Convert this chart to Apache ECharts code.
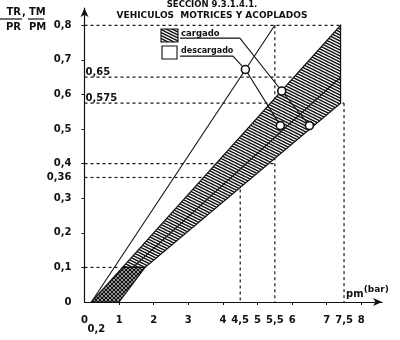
<!DOCTYPE html>
<html>
<head>
<meta charset="utf-8">
<script src="https://cdn.jsdelivr.net/npm/echarts@6/dist/echarts.min.js"></script>
<style>
  html, body { margin: 0; padding: 0; background: #fff; }
  #c { width: 400px; height: 340px; }
</style>
</head>
<body>
<div id="c"></div>
<script>
// Axis ticks and labels (pm in bar, brake ratio TR/PR, TM/PM)
const xLabelValues = [0, 1, 2, 3, 4, 4.5, 5, 5.5, 6, 7, 7.5, 8];
const xTickValues = [1, 2, 3, 4, 5, 6, 7, 8];
const yLabelValues = [0, 0.1, 0.2, 0.3, 0.36, 0.4, 0.5, 0.6, 0.7, 0.8];
const yTickValues = [0.1, 0.2, 0.3, 0.4, 0.5, 0.6, 0.7, 0.8];
const innerLabelValues = [0.65, 0.575];
const originLabel = [0.2, 0];

// Compatibility band: hatched zone and cross-hatched start zone
const hatchZone = [[1.1, 0.1], [7.4, 0.8], [7.4, 0.575], [1.75, 0.1]];
const crossZone = [[0.2, 0], [1, 0], [1.75, 0.1], [1.1, 0.1]];
const bandMiddle = [[1.4, 0.1], [7.4, 0.65]];
const steepLine = [[0.2, 0], [5.5, 0.8]];

// Reference (dashed) guides
const guides = [
  [[0, 0.8], [7.4, 0.8]],
  [[0, 0.65], [7.4, 0.65]],
  [[0, 0.575], [7.5, 0.575]],
  [[0, 0.4], [5.5, 0.4]],
  [[0, 0.36], [4.5, 0.36]],
  [[0, 0.1], [1.0, 0.1]],
  [[4.5, 0.36], [4.5, 0]],
  [[5.5, 0.8], [5.5, 0]],
  [[7.5, 0.575], [7.5, 0]]
];

// Legend leader lines and their marked points
const cargadoLeader = [[2.76, 0.763], [4.49, 0.763], [5.7, 0.61], [6.5, 0.51]];
const descargadoLeader = [[2.76, 0.711], [4.29, 0.711], [4.65, 0.672], [5.66, 0.51]];
const markedPoints = [[4.65, 0.672], [5.7, 0.61], [5.66, 0.51], [6.5, 0.51]];

const INK = '#111';
const FONT = 'DejaVu Sans';
const comma = v => String(+v.toFixed(3)).replace('.', ',');

function hatchTile(w, h, cross, lw) {
  const c = document.createElement('canvas');
  c.width = w; c.height = h;
  const g = c.getContext('2d');
  g.fillStyle = '#fff';
  g.fillRect(0, 0, w, h);
  g.strokeStyle = INK;
  g.lineWidth = lw;
  for (let n = -1; n <= 2; n++) {
    g.beginPath();
    g.moveTo(-w, -h + n * h);
    g.lineTo(2 * w, 2 * h + n * h);
    g.stroke();
    if (cross) {
      g.beginPath();
      g.moveTo(-w, 2 * h + n * h);
      g.lineTo(2 * w, -h + n * h);
      g.stroke();
    }
  }
  return c;
}
const hatchFill = { image: hatchTile(6, 3, false, 1.5), repeat: 'repeat' };
const crossFill = { image: hatchTile(4, 4, true, 1.3), repeat: 'repeat' };

function polygonSeries(points, fill, z) {
  return {
    type: 'custom', coordinateSystem: 'cartesian2d', silent: true, z: z,
    data: [points[0]],
    renderItem: (params, api) => ({
      type: 'polygon',
      shape: { points: points.map(p => api.coord(p)) },
      style: { fill: fill, stroke: INK, lineWidth: 1.2 }
    })
  };
}
function lineSeries(data, style, z) {
  return {
    type: 'line', data: data, symbol: 'none', silent: true, z: z,
    lineStyle: Object.assign({ color: INK, width: 1 }, style)
  };
}
function textOnlySeries(data, label) {
  return {
    type: 'scatter', symbolSize: 0, silent: true, z: 6, data: data,
    itemStyle: { opacity: 1, color: INK },
    label: Object.assign({
      show: true, opacity: 1, color: INK, fontFamily: FONT, fontWeight: 'bold', fontSize: 10
    }, label)
  };
}

const series = [];
guides.forEach(seg => series.push(lineSeries(seg, { type: [3, 3], width: 1.2, color: '#1a1a1a' }, 1)));
series.push(polygonSeries(hatchZone, hatchFill, 3));
series.push(polygonSeries(crossZone, crossFill, 3));
series.push(lineSeries(bandMiddle, { width: 1.2 }, 4));
series.push(lineSeries(steepLine, { width: 1.1 }, 4));
series.push(lineSeries(cargadoLeader, { width: 1.1 }, 5));
series.push(lineSeries(descargadoLeader, { width: 1.1 }, 5));
series.push({
  type: 'scatter', data: markedPoints, symbol: 'circle', symbolSize: 8, silent: true, z: 6,
  itemStyle: { color: '#fff', borderColor: INK, borderWidth: 1.6, opacity: 1 }
});
series.push(textOnlySeries(innerLabelValues.map(v => [0, v]), {
  position: 'right', distance: 1, offset: [0, -5], formatter: p => comma(p.value[1])
}));
series.push(textOnlySeries([originLabel], {
  position: 'bottom', distance: 22, offset: [5, 0], formatter: p => comma(p.value[0])
}));

const labelStyle = { color: INK, fontFamily: FONT, fontWeight: 'bold', fontSize: 10 };

const option = {
  animation: false,
  backgroundColor: '#fff',
  grid: { left: 84.5, right: 17.9, top: 8, bottom: 38, containLabel: false, outerBoundsMode: 'none' },
  xAxis: {
    type: 'value', min: 0, max: 8.6,
    axisLine: { show: true, symbol: ['none', 'arrow'], symbolSize: [6, 9], lineStyle: { color: INK, width: 1.2 } },
    axisTick: { show: true, customValues: xTickValues, length: 3, lineStyle: { color: INK } },
    axisLabel: Object.assign({ customValues: xLabelValues, formatter: v => comma(v), margin: 13, hideOverlap: false }, labelStyle),
    splitLine: { show: false },
    name: '{a|pm}{b|(bar)}',
    nameLocation: 'end', nameGap: -36,
    nameTextStyle: {
      align: 'left', verticalAlign: 'bottom', padding: [0, 0, 3, 0],
      rich: {
        a: { fontFamily: FONT, fontWeight: 'bold', fontSize: 10, color: INK, lineHeight: 14, verticalAlign: 'bottom' },
        b: { fontFamily: FONT, fontWeight: 'bold', fontSize: 9, color: INK, lineHeight: 14, verticalAlign: 'top' }
      }
    }
  },
  yAxis: {
    type: 'value', min: 0, max: 0.85,
    axisLine: { show: true, symbol: ['none', 'arrow'], symbolSize: [6, 9], lineStyle: { color: INK, width: 1.2 } },
    axisTick: { show: true, customValues: yTickValues, length: 3, lineStyle: { color: INK } },
    axisLabel: Object.assign({ customValues: yLabelValues, formatter: v => comma(v), margin: 13, hideOverlap: false }, labelStyle),
    splitLine: { show: false }
  },
  graphic: [
    { type: 'text', x: 212, y: 5, z: 10, style: { text: 'SECCION 9.3.1.4.1.', align: 'center', verticalAlign: 'middle', font: 'bold 8.5px "DejaVu Sans"', fill: INK } },
    { type: 'text', x: 212, y: 16, z: 10, style: { text: 'VEHICULOS  MOTRICES Y ACOPLADOS', align: 'center', verticalAlign: 'middle', font: 'bold 9px "DejaVu Sans"', fill: INK } },
    // axis quantity written as fractions
    { type: 'text', x: 21, y: 12, style: { text: 'TR', align: 'right', verticalAlign: 'middle', font: 'bold 10px "DejaVu Sans"', fill: INK } },
    { type: 'text', x: 24, y: 12, style: { text: ',', align: 'center', verticalAlign: 'middle', font: 'bold 10px "DejaVu Sans"', fill: INK } },
    { type: 'text', x: 29, y: 12, style: { text: 'TM', align: 'left', verticalAlign: 'middle', font: 'bold 10px "DejaVu Sans"', fill: INK } },
    { type: 'line', shape: { x1: 0, y1: 19, x2: 22, y2: 19 }, style: { stroke: INK, lineWidth: 1.2 } },
    { type: 'line', shape: { x1: 28, y1: 19, x2: 44, y2: 19 }, style: { stroke: INK, lineWidth: 1.2 } },
    { type: 'text', x: 21, y: 27, style: { text: 'PR', align: 'right', verticalAlign: 'middle', font: 'bold 10px "DejaVu Sans"', fill: INK } },
    { type: 'text', x: 29, y: 27, style: { text: 'PM', align: 'left', verticalAlign: 'middle', font: 'bold 10px "DejaVu Sans"', fill: INK } },
    // legend
    { type: 'rect', shape: { x: 161, y: 29, width: 17, height: 13 }, style: { fill: hatchFill, stroke: INK, lineWidth: 1.1 } },
    { type: 'text', x: 181, y: 34, style: { text: 'cargado', align: 'left', verticalAlign: 'middle', font: 'bold 8.5px "DejaVu Sans"', fill: INK } },
    { type: 'rect', shape: { x: 162, y: 46, width: 15, height: 13 }, style: { fill: '#fff', stroke: INK, lineWidth: 1.1 } },
    { type: 'text', x: 181, y: 51, style: { text: 'descargado', align: 'left', verticalAlign: 'middle', font: 'bold 8px "DejaVu Sans"', fill: INK } }
  ],
  series: series
};

echarts.init(document.getElementById('c')).setOption(option);
</script>
</body>
</html>
